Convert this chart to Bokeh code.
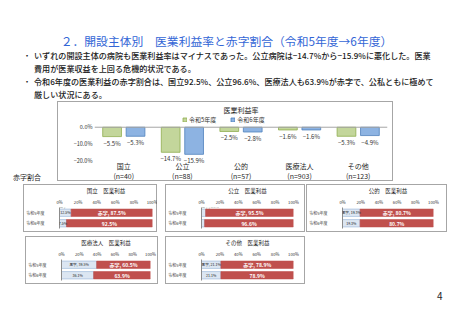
from bokeh.plotting import figure
from bokeh.models import (FactorRange, Range1d, Div, Spacer, Span, Legend, LegendItem,
                          ColumnDataSource, Label, FixedTicker)
from bokeh.layouts import column, row
from bokeh.transform import dodge
from bokeh.core.properties import value
from bokeh.embed import file_html
from bokeh.resources import INLINE

FONT = "Noto Sans CJK JP"

# ---------------- data ----------------
page_title = "２．開設主体別　医業利益率と赤字割合（令和5年度→6年度）"
bullet1 = ["いずれの開設主体の病院も医業利益率はマイナスであった。公立病院は−14.7%から−15.9%に悪化した。医業",
           "費用が医業収益を上回る危機的状況である。"]
bullet2 = ["令和6年度の医業利益の赤字割合は、国立92.5%、公立96.6%、医療法人も63.9%が赤字で、公私ともに極めて",
           "厳しい状況にある。"]
section_label = "赤字割合"
page_number = "4"

categories = ["国立", "公立", "公的", "医療法人", "その他"]
n_counts = [40, 88, 57, 903, 123]
margin_r5 = [-5.5, -14.7, -2.5, -1.6, -5.3]
margin_r6 = [-5.3, -15.9, -2.8, -1.6, -4.9]
series_names = ["令和5年度", "令和6年度"]
main_title = "医業利益率"
y_ticks = [0, -10, -20]
y_tick_labels = ["0.0%", "−10.0%", "−20.0%"]

years = ["令和5年度", "令和6年度"]
surplus_r5 = [12.5, 4.5, 19.3, 39.5, 21.1]
surplus_r6 = [7.5, 3.4, 19.3, 36.1, 21.1]
deficit_r5 = [87.5, 95.5, 80.7, 60.5, 78.9]
deficit_r6 = [92.5, 96.6, 80.7, 63.9, 78.9]
pct_ticks = [0, 20, 40, 60, 80, 100]
pct_tick_labels = ["0%", "20%", "40%", "60%", "80%", "100%"]
panel_suffix = "　医業利益"

GREEN_FILL, GREEN_LINE = "#c3d69b", "#8fad4e"
BLUE_FILL, BLUE_LINE = "#8db3e2", "#4f81bd"
RED = "#c0504d"
LIGHT_FILL, LIGHT_LINE = "#dce6f2", "#95b3d7"
BOX = {"outline": "1px solid #a6a6a6", "outline-offset": "-1px"}


def fmt(v):
    return f"{v:.1f}%".replace("-", "−")


# ---------------- header ----------------
def lines_html(lines, top):
    return (f'<div style="position:absolute;left:23px;top:{top}px;font-size:8.1px;line-height:13px;">・</div>'
            f'<div style="position:absolute;left:34px;top:{top}px;font-size:8.1px;line-height:13px;white-space:nowrap;font-weight:500;">'
            + "<br>".join(lines) + "</div>")

header_html = (
    f'<div style="position:relative;width:453px;height:101px;font-family:\'{FONT}\';color:#1a1a1a;">'
    f'<div style="position:absolute;left:0;top:34.5px;width:453px;text-align:center;font-size:11.8px;line-height:12px;color:#3366d6;white-space:nowrap;">{page_title}</div>'
    + lines_html(bullet1, 48.7) + lines_html(bullet2, 74.7) + "</div>")
header = Div(text=header_html, width=453, height=101, margin=(0, 0, 0, 0))

side = Div(text=(f'<div style="position:relative;width:57px;height:80px;font-family:\'{FONT}\';">'
                 f'<div style="position:absolute;left:13px;top:72px;font-size:7px;line-height:8px;color:#262626;white-space:nowrap;">{section_label}</div></div>'),
           width=57, height=80, margin=(0, 0, 0, 0))

# ---------------- main chart ----------------
x_labels = [f"{c}\n(n={n})" for c, n in zip(categories, n_counts)]
src = ColumnDataSource(dict(cat=x_labels, r5=margin_r5, r6=margin_r6,
                            r5_lab=[fmt(v) for v in margin_r5], r6_lab=[fmt(v) for v in margin_r6]))
X_AXIS_AT = -19.0
p = figure(x_range=FactorRange(*x_labels), y_range=Range1d(-31.25, 6.875), width=336, height=80,
           output_backend="svg", toolbar_location=None, min_border_left=37, min_border_right=6,
           min_border_top=14, min_border_bottom=1, styles=BOX, border_fill_alpha=0,
           background_fill_alpha=0, outline_line_color=None, margin=(0, 0, 0, 0))
r5 = p.vbar(x=dodge("cat", -0.2, range=p.x_range), top="r5", bottom=0, width=0.32, source=src,
            fill_color=GREEN_FILL, line_color=GREEN_LINE, line_width=0.8)
r6 = p.vbar(x=dodge("cat", 0.2, range=p.x_range), top="r6", bottom=0, width=0.32, source=src,
            fill_color=BLUE_FILL, line_color=BLUE_LINE, line_width=0.8)
for key, off in (("r5", -0.2), ("r6", 0.2)):
    p.text(x=dodge("cat", off, range=p.x_range), y=key, text=key + "_lab", source=src,
           text_align="center", text_baseline="top", y_offset=2, text_font_size="6px",
           text_font=value(FONT), text_color="#333333")
p.add_layout(Span(location=0, dimension="width", line_color="#a6a6a6", line_width=1))
legend = Legend(items=[LegendItem(label=series_names[0], renderers=[r5]),
                       LegendItem(label=series_names[1], renderers=[r6])],
                orientation="horizontal", location=(88, 56), glyph_width=5, glyph_height=5,
                label_height=6, label_standoff=2, spacing=14, padding=0, margin=0,
                label_text_font_size="6px", label_text_font=FONT, label_text_color="#333333",
                border_line_color=None, background_fill_alpha=0)
p.add_layout(legend)
p.title.text = main_title
p.title.align = "center"
p.title.offset = -15
p.title.standoff = 1
p.title.text_font = FONT
p.title.text_font_size = "7px"
p.title.text_font_style = "normal"
p.title.text_color = "#262626"
p.xgrid.visible = False
p.ygrid.visible = False
p.xaxis.fixed_location = X_AXIS_AT
p.xaxis.axis_line_color = None
p.xaxis.major_tick_line_color = None
p.xaxis.minor_tick_line_color = None
p.xaxis.major_tick_out = 0
p.xaxis.major_tick_in = 0
p.xaxis.major_label_text_font = FONT
p.xaxis.major_label_text_font_size = "7px"
p.xaxis.major_label_text_line_height = 1.0
p.xaxis.major_label_text_color = "#262626"
p.xaxis.major_label_standoff = 1
p.yaxis.ticker = FixedTicker(ticks=y_ticks)
p.yaxis.major_label_overrides = dict(zip(y_ticks, y_tick_labels))
p.yaxis.axis_line_color = None
p.yaxis.major_tick_line_color = None
p.yaxis.minor_tick_line_color = None
p.yaxis.major_tick_out = 0
p.yaxis.major_tick_in = 0
p.yaxis.major_label_text_font = FONT
p.yaxis.major_label_text_font_size = "5.5px"
p.yaxis.major_label_text_color = "#333333"
p.yaxis.major_label_standoff = 2


# ---------------- panels ----------------
def est_w(s, fs):
    return sum(fs if ord(ch) > 0x2E80 else fs * 0.55 for ch in s)


def make_panel(idx, width, mbl, mbr):
    blk = [surplus_r5[idx], surplus_r6[idx]]
    red = [deficit_r5[idx], deficit_r6[idx]]
    ypos = [1, 0]
    total = [b + r for b, r in zip(blk, red)]
    s = ColumnDataSource(dict(y=ypos, blk=blk, total=total, mid=[b + r / 2 for b, r in zip(blk, red)],
                              lab=["赤字, " + fmt(red[0]), fmt(red[1])]))
    q = figure(width=width, height=48, x_range=Range1d(0, 100), y_range=Range1d(-0.5, 1.5),
               x_axis_location="above", output_backend="svg", toolbar_location=None,
               min_border_left=mbl, min_border_right=mbr, min_border_top=19, min_border_bottom=4,
               styles=BOX, border_fill_alpha=0, background_fill_alpha=0, outline_line_color=None,
               margin=(0, 0, 0, 0))
    q.hbar(y="y", left=0, right="blk", height=0.7, source=s, fill_color=LIGHT_FILL,
           line_color=LIGHT_LINE, line_width=0.6)
    q.hbar(y="y", left="blk", right="total", height=0.7, source=s, fill_color=RED,
           line_color=RED, line_width=0.6)
    q.text(x="mid", y="y", text="lab", source=s, text_align="center", text_baseline="middle",
           text_font_size="5px", text_font=value(FONT), text_font_style="bold", text_color="white")
    fw = width - mbl - mbr
    fs = 3.6
    for i in range(2):
        pct = fmt(blk[i])
        full = ("黒字, " + pct) if i == 0 else pct
        bar_px = blk[i] / 100 * fw
        kw = dict(text_font_size=f"{fs}px", text_font=FONT, text_color="#262626")
        if est_w(full, fs) <= bar_px + 3:
            q.add_layout(Label(x=blk[i] / 2, y=ypos[i], text=full, text_align="center",
                               text_baseline="middle", **kw))
        elif i == 0 and est_w(pct, fs) <= bar_px + 3:
            q.add_layout(Label(x=blk[i] / 2, y=ypos[i], text=pct, text_align="center",
                               text_baseline="middle", **kw))
            q.add_layout(Label(x=0, y=ypos[i] + 0.36, text="黒字", text_align="left",
                               text_baseline="bottom", **kw))
        elif i == 0:
            q.add_layout(Label(x=0, y=ypos[i] + 0.36, text=full, text_align="left",
                               text_baseline="bottom", **kw))
        else:
            q.add_layout(Label(x=0, y=ypos[i], text=pct, text_align="right",
                               text_baseline="middle", x_offset=-1, **kw))
    q.title.text = categories[idx] + panel_suffix
    q.title.align = "center"
    q.title.offset = -(mbl - mbr) / 2
    q.title.standoff = 1
    q.title.text_font = FONT
    q.title.text_font_size = "5.5px"
    q.title.text_font_style = "normal"
    q.title.text_color = "#262626"
    q.xgrid.visible = False
    q.ygrid.visible = False
    q.xaxis.ticker = FixedTicker(ticks=pct_ticks)
    q.xaxis.major_label_overrides = dict(zip(pct_ticks, pct_tick_labels))
    q.xaxis.axis_line_color = None
    q.xaxis.major_tick_line_color = None
    q.xaxis.minor_tick_line_color = None
    q.xaxis.major_tick_out = 2
    q.xaxis.major_tick_in = 0
    q.xaxis.major_label_text_font = FONT
    q.xaxis.major_label_text_font_size = "4.2px"
    q.xaxis.major_label_text_color = "#333333"
    q.xaxis.major_label_standoff = 1
    q.yaxis.ticker = FixedTicker(ticks=ypos)
    q.yaxis.major_label_overrides = dict(zip(ypos, years))
    q.yaxis.axis_line_color = "#8c8c8c"
    q.yaxis.major_tick_line_color = None
    q.yaxis.minor_tick_line_color = None
    q.yaxis.major_label_text_font = FONT
    q.yaxis.major_label_text_font_size = "4px"
    q.yaxis.major_label_text_color = "#333333"
    q.yaxis.major_label_standoff = 9
    return q


p1 = make_panel(0, 134, 31, 5)
p2 = make_panel(1, 140, 32, 12)
p3 = make_panel(2, 141, 29, 14)
p4 = make_panel(3, 133, 28, 8)
p5 = make_panel(4, 140, 30, 12)

footer = Div(text=(f'<div style="position:relative;width:453px;height:30px;font-family:\'{FONT}\';">'
                   f'<div style="position:absolute;left:437px;top:6px;font-size:10px;line-height:12px;color:#262626;">{page_number}</div></div>'),
             width=453, height=30, margin=(0, 0, 0, 0))

row1 = row(Spacer(width=23, height=48), p1, Spacer(width=8, height=48), p2, Spacer(width=1, height=48), p3,
           spacing=0)
row2 = row(Spacer(width=25, height=48), p4, Spacer(width=7, height=48), p5, spacing=0)
layout = column(header, row(side, p, spacing=0), Spacer(width=453, height=3), row1,
                Spacer(width=453, height=4), row2, footer, spacing=0)

open("out.html", "w").write(file_html(layout, INLINE))
